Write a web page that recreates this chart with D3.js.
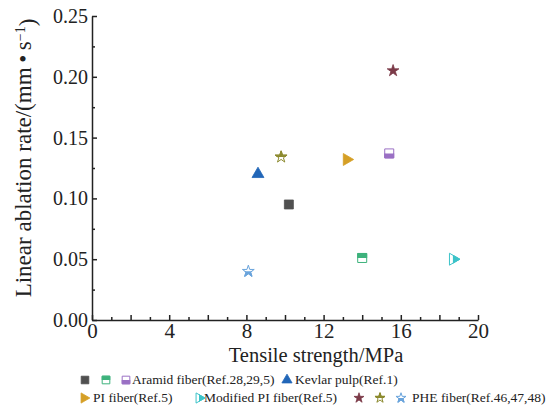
<!DOCTYPE html>
<html>
<head>
<meta charset="utf-8">
<script src="https://cdn.jsdelivr.net/npm/d3@7"></script>
<style>
  body { margin: 0; background: #fff; }
  svg { display: block; }
  svg text { font-family: "Liberation Serif", "Times New Roman", Times, serif; font-weight: normal; }
  .axis path, .axis line { stroke: #222; }
  .axis text { fill: #222; }
</style>
</head>
<body>
<div id="chart"></div>
<script>
// data
var names = ["Aramid 1", "Aramid 2", "Aramid 3", "Kevlar pulp", "PI fiber",
             "Modified PI fiber", "PHE 1", "PHE 2", "PHE 3"];
var tensile = [10.2, 14.0, 15.4, 8.6, 13.2, 18.7, 15.6, 9.8, 8.1];
var ablation = [0.095, 0.051, 0.137, 0.120, 0.132, 0.050, 0.205, 0.134, 0.040];
var xTicks = [0, 4, 8, 12, 16, 20];
var yTicks = [0, 0.05, 0.10, 0.15, 0.20, 0.25];

// marker styles
var shapes = ["square", "square", "square", "triangle", "right", "right", "star", "star", "star"];
var fills = ["full", "top", "bottom", "full", "full", "top", "full", "top", "bottom"];
var colors = ["#505050", "#3db27c", "#9a70c4", "#2166b8", "#d59f26", "#3cc3c9",
              "#7b3a48", "#8c8a2e", "#6aa4dc"];

var width = 549, height = 411;
var margin = {top: 16, right: 71, bottom: 91, left: 92};

var svg = d3.select("#chart").append("svg")
  .attr("width", width)
  .attr("height", height);

var x = d3.scaleLinear().domain([0, 20]).range([margin.left, width - margin.right]);
var y = d3.scaleLinear().domain([0, 0.25]).range([height - margin.bottom, margin.top]);

// minor ticks first so the main axis draws on top
svg.append("g").attr("class", "axis")
  .attr("transform", "translate(0," + y(0) + ")")
  .call(d3.axisBottom(x).tickValues(d3.range(1, 20, 2)).tickSize(-3).tickFormat(""))
  .call(function(g) { g.select(".domain").remove(); });
svg.append("g").attr("class", "axis")
  .attr("transform", "translate(0," + y(0) + ")")
  .call(d3.axisBottom(x).tickValues(d3.range(2, 20, 4)).tickSize(-5).tickFormat(""))
  .call(function(g) { g.select(".domain").remove(); });
svg.append("g").attr("class", "axis")
  .attr("transform", "translate(" + x(0) + ",0)")
  .call(d3.axisLeft(y).tickValues(d3.range(0.025, 0.25, 0.05)).tickSize(-3).tickFormat(""))
  .call(function(g) { g.select(".domain").remove(); });

var xAxis = svg.append("g").attr("class", "axis")
  .attr("transform", "translate(0," + y(0) + ")")
  .call(d3.axisBottom(x).tickValues(xTicks).tickSizeInner(-5).tickSizeOuter(0).tickPadding(3));
xAxis.attr("font-family", null);
xAxis.selectAll("text").style("font-size", "21px").attr("dy", "0.72em");

var yAxis = svg.append("g").attr("class", "axis")
  .attr("transform", "translate(" + x(0) + ",0)")
  .call(d3.axisLeft(y).tickValues(yTicks).tickSizeInner(-5).tickSizeOuter(0).tickPadding(4)
    .tickFormat(d3.format(".2f")));
yAxis.attr("font-family", null);
yAxis.selectAll("text").style("font-size", "20px");

svg.selectAll(".axis path, .axis line").style("stroke-width", 1.5);

// axis titles
svg.append("text")
  .attr("x", 316)
  .attr("y", 362)
  .attr("text-anchor", "middle")
  .attr("fill", "#222")
  .style("font-size", "20.5px")
  .text("Tensile strength/MPa");

var yt = svg.append("text")
  .attr("transform", "translate(31,158) rotate(-90)")
  .attr("text-anchor", "middle")
  .attr("fill", "#222")
  .style("font-size", "23px");
yt.append("tspan").text("Linear ablation rate/(mm\u2009\u2022\u2009s");
yt.append("tspan").attr("dy", "-0.45em").style("font-size", "14px").text("\u22121");
yt.append("tspan").attr("dy", "0.45em").text(")");

// marker drawing with optional half fill
var clipId = 0;
function marker(g, shape, fill, color, size) {
  var type = shape === "square" ? d3.symbolSquare :
             shape === "star" ? d3.symbolStar : d3.symbolTriangle;
  var area = shape === "square" ? size * size : shape === "star" ? size * size * 0.3 : size * size * 0.43;
  var path = d3.symbol().type(type).size(area)();
  var rot = shape === "right" ? "rotate(90)" : "";
  if (fill === "full") {
    g.append("path").attr("d", path).attr("transform", rot)
      .attr("fill", color).attr("stroke", color).attr("stroke-width", 0.8);
    return;
  }
  var id = "half" + (clipId++);
  g.append("clipPath").attr("id", id).append("rect")
    .attr("x", -size).attr("width", size * 2)
    .attr("y", fill === "top" ? -size : 0).attr("height", size);
  g.append("path").attr("d", path).attr("transform", rot)
    .attr("fill", "#fff").attr("stroke", color).attr("stroke-width", 1);
  g.append("path").attr("d", path).attr("transform", rot)
    .attr("clip-path", "url(#" + id + ")")
    .attr("fill", color).attr("stroke", color).attr("stroke-width", 1);
}

function markerSize(s) { return s === "square" ? 9 : 12; }

svg.append("g").selectAll("g.pt")
  .data(d3.range(names.length))
  .join("g")
  .attr("class", "pt")
  .attr("transform", function(i) { return "translate(" + x(tensile[i]) + "," + y(ablation[i]) + ")"; })
  .each(function(i) { marker(d3.select(this), shapes[i], fills[i], colors[i], markerSize(shapes[i])); });

// legend
var legendRows = [
  {y: 384, items: [
    {m: [0, 1, 2], mx: [85, 106, 126], label: "Aramid fiber(Ref.28,29,5)", tx: 132},
    {m: [3], mx: [287], label: "Kevlar pulp(Ref.1)", tx: 295}
  ]},
  {y: 402, items: [
    {m: [4], mx: [84], label: "PI fiber(Ref.5)", tx: 93},
    {m: [5], mx: [199], label: "Modified PI fiber(Ref.5)", tx: 204},
    {m: [6, 7, 8], mx: [359, 380, 401], label: "PHE fiber(Ref.46,47,48)", tx: 412}
  ]}
];

var legend = svg.append("g");
legendRows.forEach(function(row) {
  row.items.forEach(function(item) {
    item.m.forEach(function(i, k) {
      var g = legend.append("g").attr("transform", "translate(" + item.mx[k] + "," + (row.y - 4) + ")");
      marker(g, shapes[i], fills[i], colors[i], markerSize(shapes[i]) * 0.85);
    });
    legend.append("text")
      .attr("x", item.tx).attr("y", row.y)
      .style("font-size", "13.5px")
      .attr("fill", "#222")
      .text(item.label);
  });
});
</script>
</body>
</html>
